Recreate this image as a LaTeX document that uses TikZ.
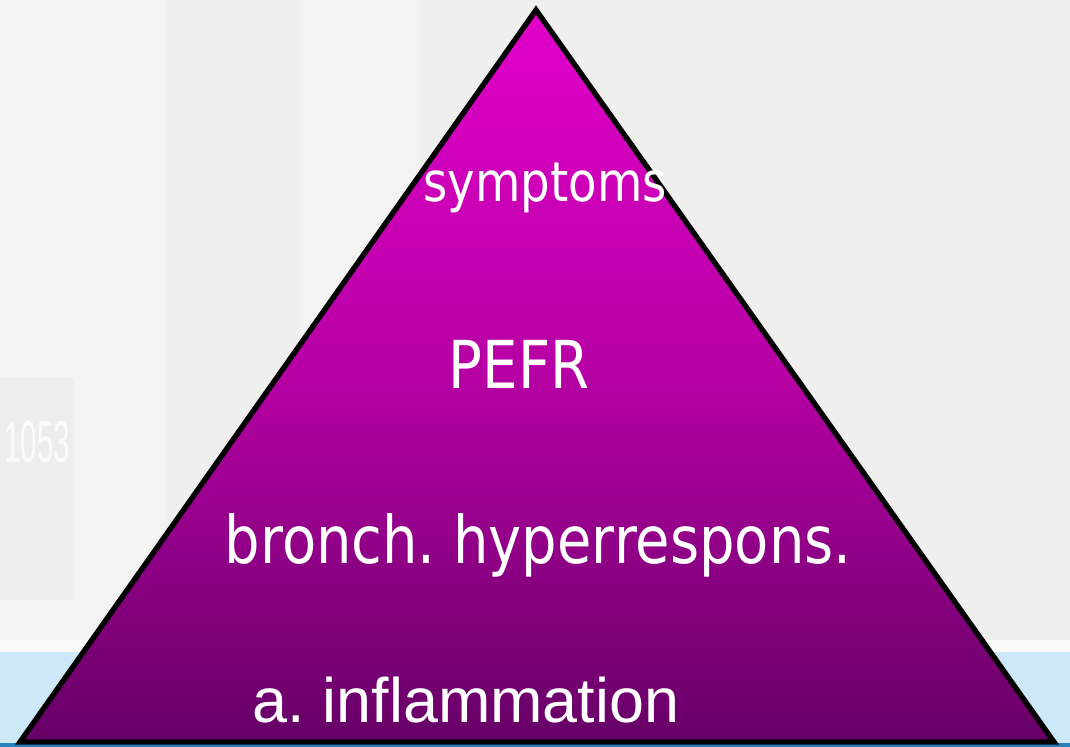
\documentclass[tikz,border=0pt]{standalone}
\usepackage{fontspec}
\setmainfont{Liberation Sans}
\newfontfamily\tahomafont[FakeStretch=0.85]{DejaVu Sans}
\usepackage{xcolor}
\usepackage{tikz}
\usetikzlibrary{positioning}
\definecolor{pyrtop}{RGB}{226,0,202}
\definecolor{pyrmid}{RGB}{182,0,164}
\definecolor{pyrbottom}{RGB}{102,0,102}
\definecolor{bgpaper}{RGB}{239,239,237}
\definecolor{bgpale}{RGB}{243,243,242}
\definecolor{bgblue}{RGB}{205,232,246}
\definecolor{bgdeep}{RGB}{40,128,188}
\frenchspacing

\begin{document}
\begin{tikzpicture}[x=0.025cm, y=-0.025cm,
    level/.style={text=white, inner sep=0pt, anchor=base},
    pyramid/.style={draw=black, line width=3.8pt, line join=miter,
      top color=pyrtop, bottom color=pyrbottom, middle color=pyrmid}
]
\useasboundingbox (0,0) rectangle (1070,747);
% background photo
\fill[bgpaper] (0,0) rectangle (1070,747);
\fill[bgpale] (0,0) rectangle (165,640);
\fill[bgpale] (300,0) rectangle (420,640);
\fill[black!7] (0,378) rectangle (74,600);
\node[text=white, opacity=0.8, anchor=west, inner sep=0pt,
      font=\fontsize{42}{42}\selectfont] (tag) at (4,442) {\scalebox{0.5}[1]{1053}};
\fill[white!60!bgpaper] (0,640) rectangle (1070,652);
\fill[bgblue] (0,652) rectangle (1070,743);
\fill[bgdeep] (0,743) rectangle (1070,747);
% pyramid
\coordinate (apex)  at (536,10);
\coordinate (baseL) at (20,742);
\coordinate (baseR) at (1054,742);
\path[pyramid] (apex) -- (baseR) -- (baseL) -- cycle;
\node[level, font=\tahomafont\fontsize{39}{44}\selectfont]   (symp) at (545,202) {symptoms};
\node[level, font=\tahomafont\fontsize{47}{52}\selectfont]   (pefr) at (519,388) {PEFR};
\node[level, font=\tahomafont\fontsize{46.8}{52}\selectfont] (bhr)  at (538,563) {bronch. hyperrespons.};
\node[level, font=\fontsize{44.7}{50}\selectfont]            (infl) at (466,722) {a. inflammation};
\end{tikzpicture}
\end{document}
